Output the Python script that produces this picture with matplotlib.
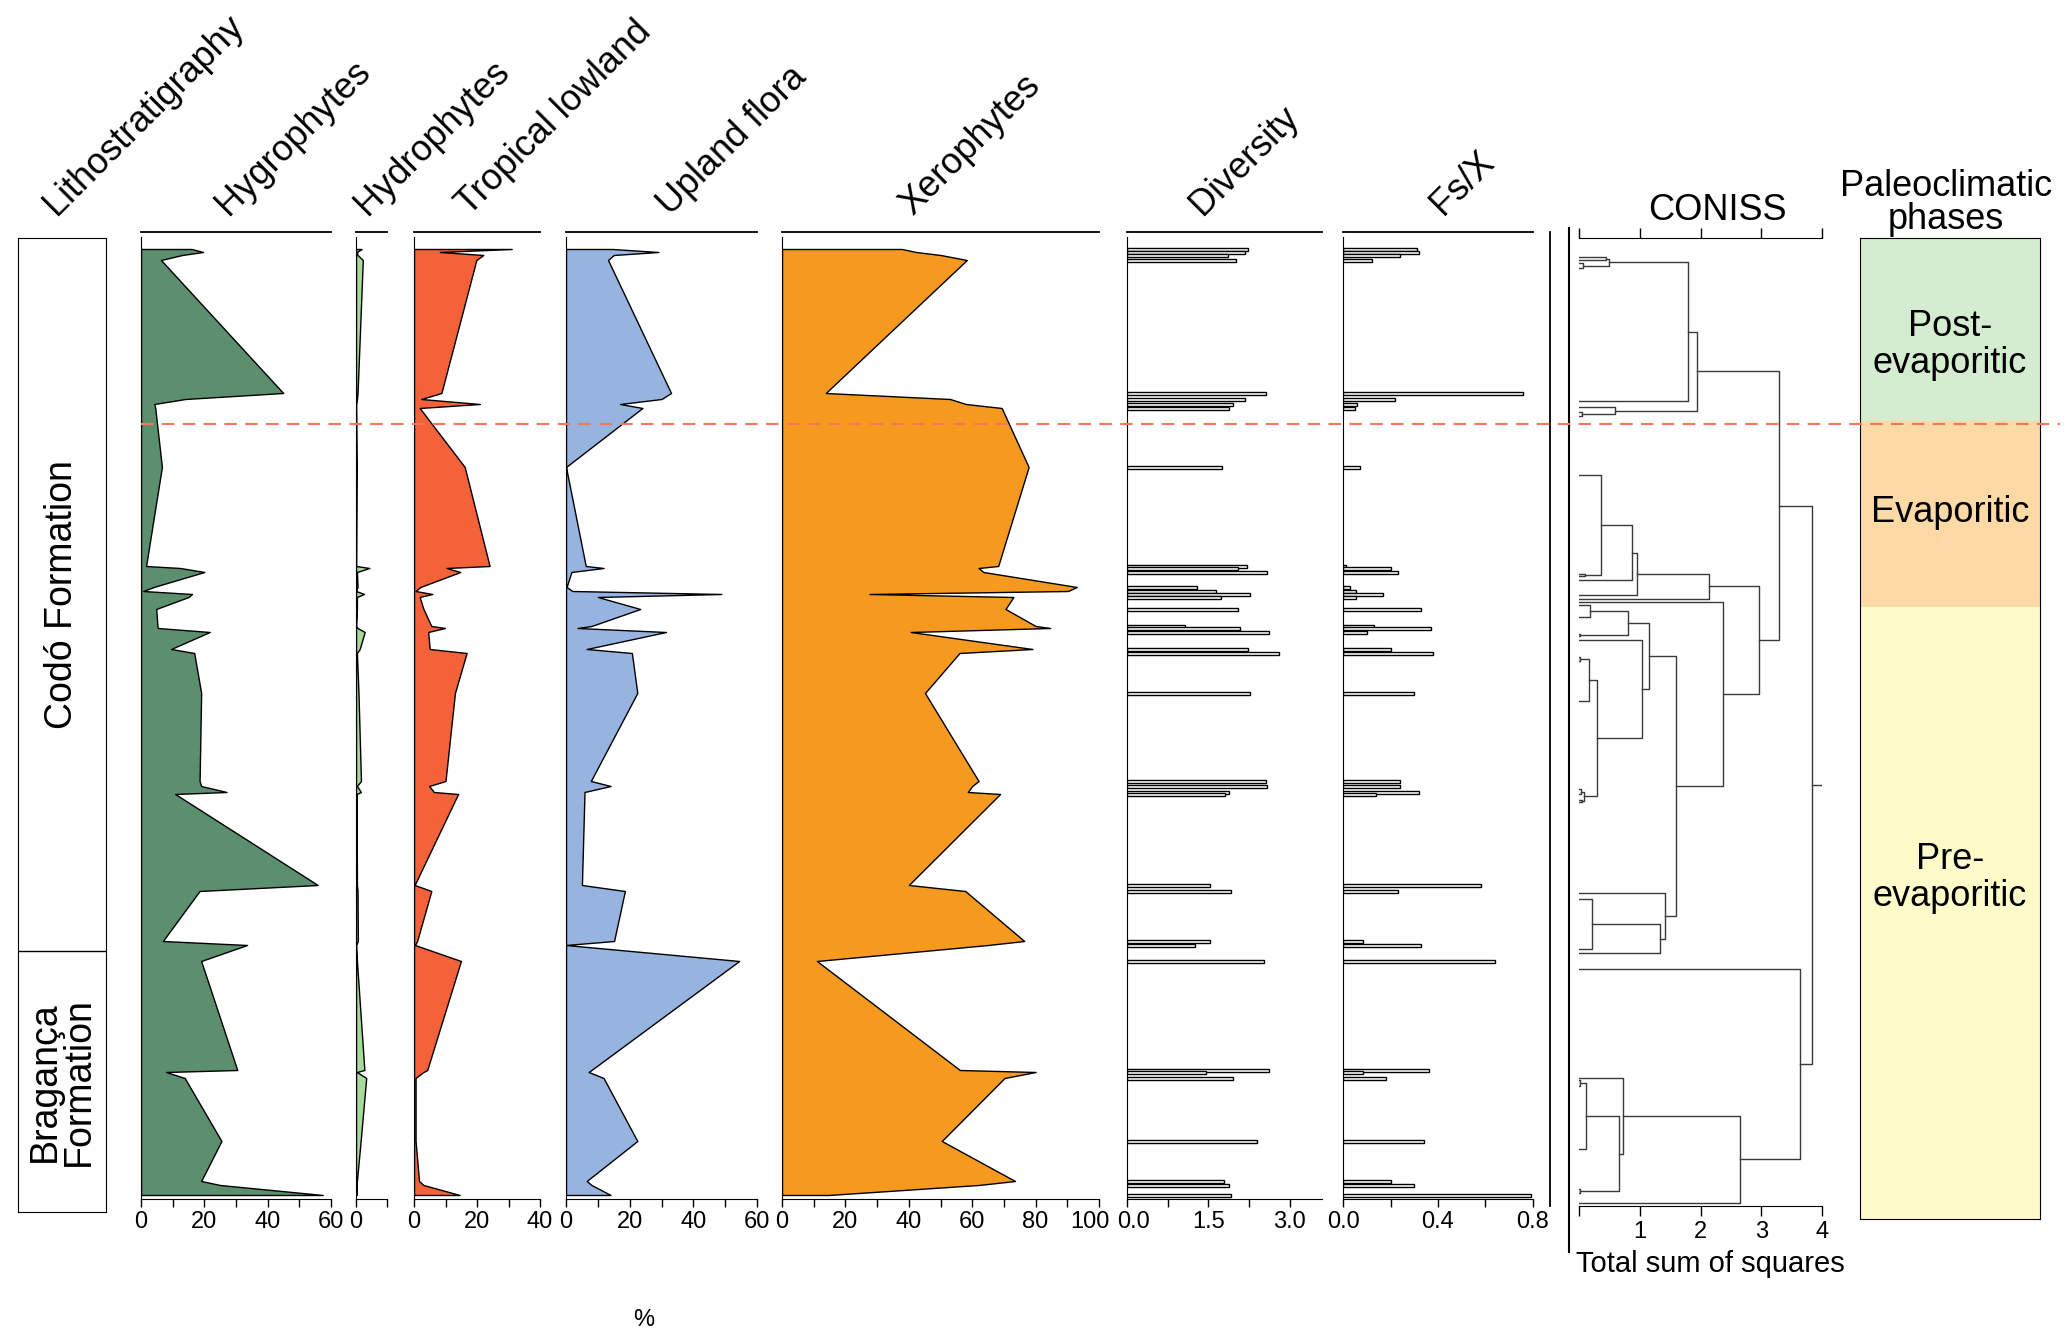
import matplotlib
matplotlib.use("Agg")
import matplotlib.pyplot as plt
from matplotlib.lines import Line2D
from matplotlib.transforms import ScaledTranslation

plt.rcParams["font.family"] = ["Liberation Sans", "DejaVu Sans"]

W, H = 2067, 1334

# sample depths (arbitrary depth units, top of section = 0)
depth = [12, 15, 18, 23, 156, 162, 167, 171, 230, 329, 331, 335, 350, 354,
         357, 360, 372, 389, 391, 395, 412, 416, 456, 544, 549, 555, 557,
         648, 654, 704, 708, 724, 833, 835, 841, 904, 944, 948, 958]

# pollen groups (%)
hygrophytes = [16, 19.6, 13, 6.3, 44.9, 14, 4.2, 4.5, 6.6, 1.6, 12.4, 20, 4,
               0.7, 16.1, 15, 4.8, 5.2, 5.3, 21.7, 9.5, 16.8, 19, 18.5, 19, 27,
               10.8, 55.8, 18.5, 6.9, 33.5, 19, 30.4, 7.9, 13.8, 25.4, 19, 25,
               57.4]
hydrophytes = [1.8, 0.3, 0.5, 2.2, 0.5, 0.3, 0, 0, 0.2, 0, 4.3, 0.3, 0.5, 0,
               2.6, 0.3, 0.3, 0, 0.5, 2.8, 1.2, 0.3, 0.8, 1.6, 0.3, 1.6, 0.2,
               0.3, 0.5, 0.6, 0, 0.3, 2.7, 0.3, 3.3, 1.5, 0.3, 0.2, 0.2]
tropical_lowland = [31, 8.2, 22, 19.8, 8.7, 2.3, 20.9, 1.8, 16.1, 24, 10.3,
                    14.7, 2, 0.5, 5.8, 1.8, 3, 5.5, 9.8, 4.5, 5, 16.7, 13, 10,
                    4.8, 6.3, 14, 0.2, 5.5, 1.0, 0.3, 14.9, 4.2, 3, 0.5, 0.5,
                    1.6, 3, 14.5]
upland_flora = [14.6, 29, 15, 13.2, 33, 30, 17, 24, 0, 6.2, 11.8, 1.7, 0.2, 2,
                48.8, 10, 23.3, 8, 3.6, 31.4, 6.5, 20.7, 22.4, 7.8, 14, 5.8,
                5.8, 5, 18.5, 15.1, 0, 54.4, 8, 7.1, 11.8, 22.4, 6.5, 8, 14]
xerophytes = [37.8, 42.3, 50, 58.3, 13.8, 53, 58, 69.3, 77.8, 68.2, 62, 63.5,
              93, 90.2, 27.6, 73, 70.5, 80, 84.6, 40.6, 79, 56, 45.1, 62, 60,
              58.6, 68.8, 40, 57.8, 76.4, 65, 11, 56.1, 80, 70.2, 50.4, 73.5,
              62, 14.7]

# indices
diversity = [2.24, 2.17, 1.86, 2.02, 2.56, 2.17, 1.95, 1.89, 1.76, 2.21, 2.05,
             2.59, 1.29, 1.64, 2.27, 1.73, 2.05, 1.07, 2.08, 2.62, 2.24, 2.81,
             2.27, 2.56, 2.59, 1.89, 1.81, 1.54, 1.92, 1.54, 1.26, 2.52, 2.62,
             1.45, 1.95, 2.40, 1.79, 1.89, 1.92]
fs_x = [0.31, 0.32, 0.24, 0.12, 0.76, 0.22, 0.06, 0.05, 0.07, 0.014, 0.20,
        0.23, 0.03, 0.056, 0.17, 0.056, 0.33, 0.13, 0.37, 0.10, 0.20, 0.38,
        0.30, 0.24, 0.24, 0.32, 0.14, 0.58, 0.23, 0.084, 0.33, 0.64, 0.36,
        0.084, 0.18, 0.34, 0.20, 0.30, 0.79]

# CONISS merges like a linkage table: (child a, child b, total sum of squares)
# children < 39 are samples, >= 39 are earlier merges
coniss_merges = [
    (2, 3, 0.07), (0, 1, 0.44), (40, 39, 0.49), (41, 4, 1.79),
    (6, 7, 0.05), (5, 43, 0.60), (42, 44, 1.94),
    (9, 10, 0.10), (8, 46, 0.37), (47, 11, 0.87), (48, 12, 0.95),
    (49, 13, 2.14),
    (15, 16, 0.18), (17, 18, 0.02), (51, 52, 0.80),
    (20, 21, 0.02), (54, 22, 0.16), (23, 24, 0.03), (25, 26, 0.05),
    (56, 57, 0.08), (55, 58, 0.30), (19, 59, 1.04), (53, 60, 1.15),
    (28, 29, 0.22), (62, 30, 1.33), (27, 63, 1.42), (61, 64, 1.60),
    (14, 65, 2.37), (50, 66, 2.97), (45, 67, 3.30),
    (33, 34, 0.01), (69, 35, 0.12), (36, 37, 0.02), (70, 71, 0.66),
    (32, 72, 0.73), (73, 38, 2.65), (31, 74, 3.64), (68, 75, 3.84),
]

formations = ["Codó Formation", "Bragança\nFormation"]
formation_bounds = [0, 713, 974]

phases = ["Post-\nevaporitic", "Evaporitic", "Pre-\nevaporitic"]
phase_bounds = [0, 183, 369, 981]
phase_label_depth = [107, 275, 640]
phase_colors = ["#d4eccf", "#fdd9a6", "#fefaca"]


def fx(x):
    return x / W


def fy(y):
    return 1 - y / H


def add_px_axes(fig, x0, y0, x1, y1):
    return fig.add_axes([fx(x0), fy(y1), (x1 - x0) / W, (y1 - y0) / H])


def fig_line(fig, xs, ys, **kw):
    fig.add_artist(Line2D([fx(x) for x in xs], [fy(y) for y in ys],
                          transform=fig.transFigure, **kw))


def header(fig, x, name):
    fig.text(fx(x), fy(216), name, rotation=45, rotation_mode="anchor",
             ha="left", va="baseline", fontsize=26)


def nudge(fig, label, dx_px):
    label.set_transform(label.get_transform() +
                        ScaledTranslation(dx_px / 100, 0, fig.dpi_scale_trans))


def main():
    fig = plt.figure(figsize=(W / 100, H / 100), dpi=100)

    top, bottom = 237, 1199
    tick_kw = dict(axis="x", which="both", length=6, width=1, labelsize=17,
                   pad=3, direction="out")

    # percentage curves
    curves = [
        ("Hygrophytes", hygrophytes, "#5b8f6e", 141, 331, 60, 10, 20, 228),
        ("Hydrophytes", hydrophytes, "#a8d99a", 356, 387, 10, 10, 100, 367),
        ("Tropical lowland", tropical_lowland, "#f4623a", 414, 540, 40, 10, 20, 469),
        ("Upland flora", upland_flora, "#97b3df", 566, 757, 60, 10, 20, 670),
        ("Xerophytes", xerophytes, "#f59a1e", 782, 1099, 100, 10, 20, 913),
    ]
    axes = {}
    for name, vals, color, x0, x1, xmax, minor, major, tx in curves:
        ax = add_px_axes(fig, x0, top, x1, bottom)
        ax.fill_betweenx(depth, 0, vals, facecolor=color, edgecolor="black",
                         lw=1.0)
        ax.set_xlim(0, xmax)
        ax.set_ylim(962, 0)
        ax.set_xticks(range(0, xmax + 1, minor))
        ax.set_xticklabels([str(v) if v % major == 0 else ""
                            for v in range(0, xmax + 1, minor)])
        ax.set_yticks([])
        for s in ("top", "right"):
            ax.spines[s].set_visible(False)
        ax.tick_params(**tick_kw)
        fig_line(fig, [x0, x1], [232, 232], color="black", lw=1.3)
        header(fig, tx, name)
        axes[name] = ax

    # bar panels
    bars = [
        ("Diversity", diversity, 1127, 1322, 3.6,
         [0, 0.75, 1.5, 2.25, 3.0], ["0.0", "", "1.5", "", "3.0"], 1202),
        ("Fs/X", fs_x, 1343, 1533, 0.8,
         [0, 0.2, 0.4, 0.6, 0.8], ["0.0", "", "0.4", "", "0.8"], 1443),
    ]
    for name, vals, x0, x1, xmax, ticks, labels, tx in bars:
        ax = add_px_axes(fig, x0, top, x1, bottom)
        ax.barh(depth, vals, height=3, color="white", edgecolor="black",
                lw=1.0)
        ax.set_xlim(0, xmax)
        ax.set_ylim(962, 0)
        ax.set_xticks(ticks)
        ax.set_xticklabels(labels)
        ax.set_yticks([])
        for s in ("top", "right"):
            ax.spines[s].set_visible(False)
        ax.tick_params(**tick_kw)
        fig_line(fig, [x0, x1], [232, 232], color="black", lw=1.3)
        header(fig, tx, name)
        axes[name] = ax

    # keep "100" and "0.0" from running into each other
    nudge(fig, axes["Xerophytes"].get_xticklabels()[-1], -9)
    nudge(fig, axes["Diversity"].get_xticklabels()[0], 6)

    fig_line(fig, [1550, 1550], [232, 1206], color="black", lw=1.3)

    # CONISS dendrogram
    ax = add_px_axes(fig, 1579, 238, 1822, 1206)
    ypos = list(depth)
    height = [0.0] * len(depth)
    for a, b, h in coniss_merges:
        ya, yb = ypos[a], ypos[b]
        ax.plot([height[a], h, h, height[b]], [ya, ya, yb, yb],
                color="#3a3a3a", lw=1.0)
        ypos.append((ya + yb) / 2)
        height.append(h)
    ax.plot([height[-1], 4.0], [ypos[-1], ypos[-1]], color="#3a3a3a", lw=1.0)
    ax.set_xlim(0, 4)
    ax.set_ylim(961, -7)
    ax.set_yticks([])
    ax.set_xticks([0, 1, 2, 3, 4])
    ax.set_xticklabels(["", "1", "2", "3", "4"])
    for s in ("left", "right"):
        ax.spines[s].set_visible(False)
    ax.tick_params(axis="x", top=True, length=7, width=1, labelsize=17, pad=4)
    ax.set_xlabel("Total sum of squares", fontsize=21, labelpad=6)
    ax.xaxis.set_label_coords(0.54, -0.045)
    fig_line(fig, [1569, 1569], [228, 1252], color="black", lw=1.5)
    fig.text(fx(1717), fy(210), "CONISS", ha="center", va="center",
             fontsize=26)

    # lithostratigraphy column
    ax = add_px_axes(fig, 18, 238, 106, 1212)
    ax.set_xlim(0, 1)
    ax.set_ylim(formation_bounds[-1], 0)
    ax.axhline(formation_bounds[1], color="black", lw=1.0)
    for i, name in enumerate(formations):
        mid = (formation_bounds[i] + formation_bounds[i + 1]) / 2
        ax.text(0.5, mid, name, rotation=90, ha="center", va="center",
                fontsize=27, linespacing=0.95)
    ax.set_xticks([])
    ax.set_yticks([])
    header(fig, 56, "Lithostratigraphy")

    # paleoclimatic phases
    ax = add_px_axes(fig, 1860, 238, 2040, 1219)
    ax.set_xlim(0, 1)
    ax.set_ylim(phase_bounds[-1], 0)
    for i, name in enumerate(phases):
        ax.axhspan(phase_bounds[i], phase_bounds[i + 1],
                   facecolor=phase_colors[i], edgecolor="none")
        ax.text(0.5, phase_label_depth[i], name, ha="center", va="center",
                fontsize=26, linespacing=1.05)
    ax.set_xticks([])
    ax.set_yticks([])
    fig.text(fx(1946), fy(203), "Paleoclimatic\nphases", ha="center",
             va="center", fontsize=26, linespacing=0.95)

    # boundary post-evaporitic / evaporitic
    fig_line(fig, [141, 2060], [424, 424], color="#f4775a", lw=1.5,
             ls=(0, (6, 4)), zorder=10)

    fig.text(fx(644), fy(1320), "%", ha="center", va="center", fontsize=17)

    fig.savefig("out.png", dpi=100)


if __name__ == "__main__":
    main()
